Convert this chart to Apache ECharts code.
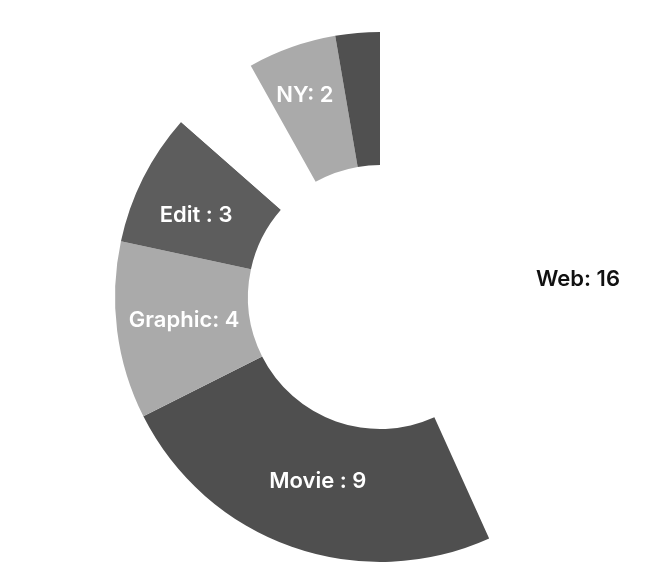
<!DOCTYPE html>
<html>
<head>
<meta charset="utf-8">
<script src="https://cdn.jsdelivr.net/npm/echarts@6/dist/echarts.min.js"></script>
<style>
html,body{margin:0;padding:0;background:#fff;}
#chart{width:649px;height:566px;}
</style>
</head>
<body>
<div id="chart"></div>
<script>
// Data
const categories = ['Web', 'Movie ', 'Graphic', 'Edit ', 'Other', 'NY', 'Misc'];
const values = [16, 9, 4, 3, 2, 2, 1];
const showLabel = [true, true, true, true, false, true, false];

// Styles
const sliceColors = ['#ffffff', '#4f4f4f', '#aaaaaa', '#5d5d5d', '#ffffff', '#aaaaaa', '#505050'];
const labelColors = ['#111111', '#ffffff', '#ffffff', '#ffffff', '#ffffff', '#ffffff', '#ffffff'];
const labelOffsets = [[1, 25], [5, -6], [4, -2], [-4, 9], [0, 0], [-8, -12], [0, 0]];

const chart = echarts.init(document.getElementById('chart'), null, { renderer: 'canvas' });

const data = categories.map((name, i) => ({
  name: name,
  value: values[i],
  itemStyle: { color: sliceColors[i] },
  label: { show: showLabel[i], color: labelColors[i], offset: labelOffsets[i] }
}));

chart.setOption({
  animation: false,
  series: [{
    type: 'pie',
    center: [380, 297],
    radius: [132, 265],
    startAngle: 90,
    clockwise: true,
    silent: true,
    label: {
      position: 'inside',
      formatter: '{b}: {c}',
      fontFamily: 'Inter',
      fontWeight: 600,
      fontSize: 22
    },
    labelLine: { show: false },
    itemStyle: { borderWidth: 0 },
    data: data
  }]
});
</script>
</body>
</html>
